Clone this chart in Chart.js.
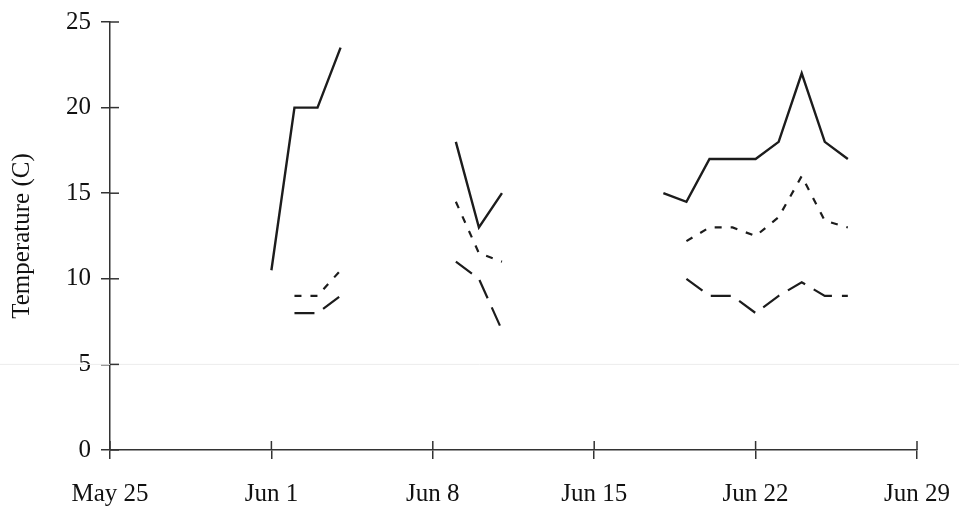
<!DOCTYPE html>
<html>
<head>
<meta charset="utf-8">
<script src="https://cdn.jsdelivr.net/npm/chart.js@4.4.1/dist/chart.umd.min.js"></script>
<style>
  html, body { margin: 0; padding: 0; background: #fff; }
</style>
</head>
<body>
<canvas id="temp-chart" width="959" height="514"></canvas>
<script>
// days counted from May 25 (day 0)
const dayNumbers = [7, 8, 9, 10, 11, 12, 13, 14, 15, 16, 17, 18, 19, 20, 21, 22, 23, 24, 25, 26, 27, 28, 29, 30, 31, 32];
const maxTemp = [10.5, 20, 20, 23.5, null, null, null, null, 18, 13, 15, null, null, null, null, null, null, 15, 14.5, 17, 17, 17, 18, 22, 18, 17];
const meanTemp = [null, 9, 9, 10.5, null, null, null, null, 14.5, 11.5, 11, null, null, null, null, null, null, null, 12.2, 13, 13, 12.5, 13.6, 16, 13.4, 13];
const minTemp = [null, 8, 8, 9, null, null, null, null, 11, 10, 7, null, null, null, null, null, null, null, 10, 9, 9, 8, 9, 9.8, 9, 9];
const xTickLabels = ["May 25", "Jun 1", "Jun 8", "Jun 15", "Jun 22", "Jun 29"];

const ink = "#1c1c1c";
const axisColor = "#333";
const tickLen = 9;

const toPoints = (vals) => dayNumbers.map((d, i) => ({ x: d, y: vals[i] }));

// tick marks cross the axis, so draw the inner half too
const innerTicks = {
  id: "innerTicks",
  afterDraw(chart) {
    const { ctx, chartArea, scales } = chart;
    ctx.save();
    ctx.strokeStyle = axisColor;
    ctx.lineWidth = 1.5;
    scales.x.ticks.forEach((t) => {
      const px = scales.x.getPixelForValue(t.value);
      ctx.beginPath();
      ctx.moveTo(px, chartArea.bottom);
      ctx.lineTo(px, chartArea.bottom - tickLen);
      ctx.stroke();
    });
    scales.y.ticks.forEach((t) => {
      const py = scales.y.getPixelForValue(t.value);
      ctx.beginPath();
      ctx.moveTo(chartArea.left, py);
      ctx.lineTo(chartArea.left + tickLen, py);
      ctx.stroke();
    });
    ctx.restore();
  },
};

// faint scan line across the page
const scanLine = {
  id: "scanLine",
  beforeDatasetsDraw(chart) {
    const { ctx, scales } = chart;
    const py = scales.y.getPixelForValue(5);
    ctx.save();
    ctx.strokeStyle = "#ececec";
    ctx.lineWidth = 1;
    ctx.beginPath();
    ctx.moveTo(0, py);
    ctx.lineTo(chart.width, py);
    ctx.stroke();
    ctx.restore();
  },
};

const lineStyle = {
  borderColor: ink,
  pointRadius: 0,
  tension: 0,
  fill: false,
  spanGaps: false,
};

new Chart(document.getElementById("temp-chart").getContext("2d"), {
  type: "line",
  data: {
    datasets: [
      { ...lineStyle, label: "Max", data: toPoints(maxTemp), borderWidth: 2.4 },
      { ...lineStyle, label: "Mean", data: toPoints(meanTemp), borderWidth: 2.2, borderDash: [7, 9] },
      { ...lineStyle, label: "Min", data: toPoints(minTemp), borderWidth: 2.2, borderDash: [20, 10] },
    ],
  },
  plugins: [scanLine, innerTicks],
  options: {
    responsive: false,
    animation: false,
    layout: { padding: { top: 22, right: 42, bottom: 0, left: 0 } },
    plugins: { legend: { display: false }, tooltip: { enabled: false } },
    scales: {
      x: {
        type: "linear",
        min: 0,
        max: 35,
        afterFit: (scale) => {
          scale.height = 64;
          scale.paddingLeft = 0;
          scale.paddingRight = 0;
        },
        afterBuildTicks: (scale) => {
          scale.ticks = xTickLabels.map((_, i) => ({ value: i * 7 }));
        },
        ticks: {
          callback: (v) => xTickLabels[v / 7],
          color: "#111",
          font: { family: "Liberation Serif", size: 25 },
          padding: 20,
          maxRotation: 0,
          autoSkip: false,
        },
        grid: { drawOnChartArea: false, drawTicks: true, tickLength: tickLen, color: axisColor, lineWidth: 1.5 },
        border: { display: true, color: axisColor, width: 1.5 },
      },
      y: {
        min: 0,
        max: 25,
        afterFit: (scale) => {
          scale.width = 110;
          scale.paddingTop = 0;
          scale.paddingBottom = 0;
        },
        ticks: {
          stepSize: 5,
          color: "#111",
          font: { family: "Liberation Serif", size: 25 },
          padding: 10,
        },
        title: {
          display: true,
          text: "Temperature (C)",
          color: "#111",
          font: { family: "Liberation Serif", size: 25 },
          padding: { top: 7, bottom: 0 },
        },
        grid: { drawOnChartArea: false, drawTicks: true, tickLength: tickLen, color: axisColor, lineWidth: 1.5 },
        border: { display: true, color: axisColor, width: 1.5 },
      },
    },
  },
});
</script>
</body>
</html>
